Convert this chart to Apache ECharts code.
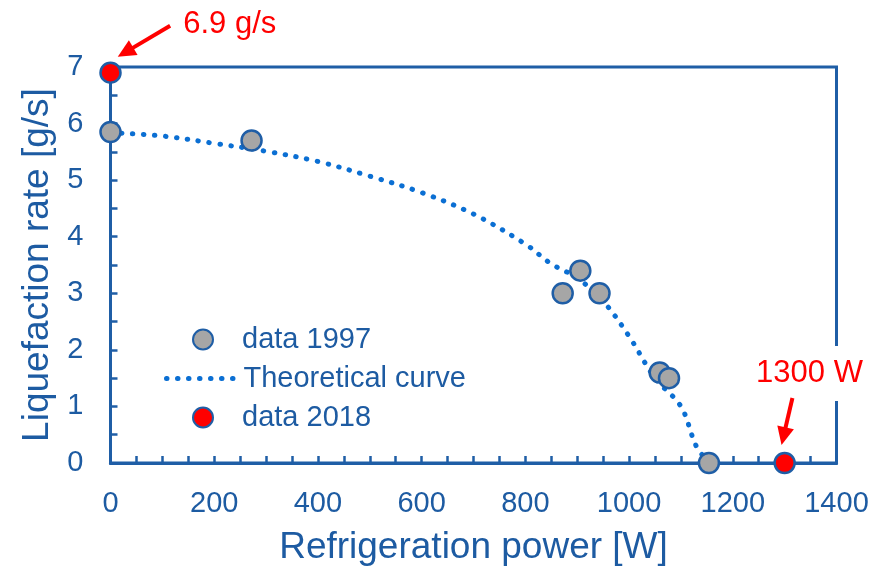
<!DOCTYPE html>
<html>
<head>
<meta charset="utf-8">
<script src="https://cdn.jsdelivr.net/npm/echarts@6/dist/echarts.min.js"></script>
<style>html,body{margin:0;padding:0;background:#fff}#c{width:885px;height:569px}</style>
</head>
<body>
<div id="c"></div>
<script>
// ---- data ----
var xTicks = [0, 200, 400, 600, 800, 1000, 1200, 1400];
var yTicks = [0, 1, 2, 3, 4, 5, 6, 7];
var data1997W = [0, 272, 872, 906, 943, 1059, 1077, 1154];
var data1997Rate = [5.85, 5.7, 3.0, 3.4, 3.0, 1.6, 1.5, 0.0];
var data2018W = [0, 1300];
var data2018Rate = [6.9, 0.0];
var curveW = [0, 100, 200, 300, 400, 500, 600, 700, 800, 850, 900, 950, 1000, 1050, 1100, 1130, 1155];
var curveRate = [5.84, 5.78, 5.65, 5.51, 5.33, 5.07, 4.78, 4.40, 3.87, 3.52, 3.27, 2.86, 2.24, 1.50, 1.00, 0.29, 0.0];
// annotations (data coordinates)
var annoText = ['6.9 g/s', '1300 W'];
var annoTextAt = [[230, 7.76], [1348, 1.58]];
var arrowFrom = [[115, 7.73], [1315, 1.15]];
var arrowTo = [[14, 7.18], [1294, 0.32]];

// ---- styles ----
var AX = '#1f5ea6';
var TXT = '#1d5ba2';
var RED = '#ff0000';
var CURVE = '#0b6fd3';
var FONT = '"Liberation Sans", Arial, sans-serif';

function zip(a, b) { return a.map(function (v, i) { return [v, b[i]]; }); }

var chart = echarts.init(document.getElementById('c'), null, {renderer: 'canvas'});
var option = {
  animation: false,
  backgroundColor: '#fff',
  textStyle: {fontFamily: FONT},
  grid: {left: 110.5, right: 48.5, top: 67, bottom: 106, show: true, containLabel: false,
         outerBoundsMode: 'none',
         borderColor: AX, borderWidth: 3, backgroundColor: 'transparent'},
  xAxis: {
    type: 'value', min: xTicks[0], max: xTicks[xTicks.length - 1], interval: 200,
    name: 'Refrigeration power [W]', nameLocation: 'middle', nameGap: 66,
    nameTextStyle: {color: TXT, fontSize: 37, fontFamily: FONT},
    axisLine: {show: true, lineStyle: {color: AX, width: 3}},
    axisTick: {show: true, inside: true, length: 7, lineStyle: {color: AX, width: 2.5}},
    minorTick: {show: true, splitNumber: 4, length: 7, lineStyle: {color: AX, width: 2.5}},
    axisLabel: {color: TXT, fontSize: 29, margin: 26, fontFamily: FONT, formatter: function (v) { return String(v); }},
    splitLine: {show: false}
  },
  yAxis: {
    type: 'value', min: yTicks[0], max: yTicks[yTicks.length - 1], interval: 1,
    name: 'Liquefaction rate [g/s]', nameLocation: 'middle', nameGap: 54,
    nameTextStyle: {color: TXT, fontSize: 37, fontFamily: FONT},
    axisLine: {show: true, lineStyle: {color: AX, width: 3}},
    axisTick: {show: true, inside: true, length: 7, lineStyle: {color: AX, width: 2.5}},
    minorTick: {show: true, splitNumber: 2, length: 7, lineStyle: {color: AX, width: 2.5}},
    axisLabel: {color: TXT, fontSize: 29, margin: 27, fontFamily: FONT, formatter: function (v) { return String(v); }},
    splitLine: {show: false}
  },
  legend: [
    {data: ['data 1997'], left: 187, top: 320, itemWidth: 20, itemHeight: 20,
     textStyle: {color: TXT, fontSize: 29, fontFamily: FONT, padding: [0, 0, 0, 24]}},
    {data: ['Theoretical curve'], left: 159, top: 359, itemWidth: 72, itemHeight: 14,
     itemStyle: {opacity: 0},
     lineStyle: {color: CURVE, width: 5, type: [0.5, 10.5], cap: 'round'},
     textStyle: {color: TXT, fontSize: 29, fontFamily: FONT}},
    {data: ['data 2018'], left: 187, top: 398, itemWidth: 20, itemHeight: 20,
     textStyle: {color: TXT, fontSize: 29, fontFamily: FONT, padding: [0, 0, 0, 24]}}
  ],
  series: [
    {
      name: 'Theoretical curve', type: 'line', data: zip(curveW, curveRate),
      smooth: 0.35, symbol: 'none', showSymbol: false, z: 2,
      lineStyle: {color: CURVE, width: 5, type: [0.5, 10.5], cap: 'round'},
      itemStyle: {color: CURVE}
    },
    {
      name: 'data 1997', type: 'scatter', data: zip(data1997W, data1997Rate),
      symbol: 'circle', symbolSize: 20, clip: false, z: 3,
      itemStyle: {color: '#a6a6a6', borderColor: AX, borderWidth: 2.5, opacity: 1}
    },
    {
      name: 'data 2018', type: 'scatter', data: zip(data2018W, data2018Rate),
      symbol: 'circle', symbolSize: 20, clip: false, z: 4,
      itemStyle: {color: RED, borderColor: AX, borderWidth: 2.5, opacity: 1}
    }
  ]
};
chart.setOption(option);

// annotations placed via the chart's own coordinate conversion
function px(p) { return chart.convertToPixel({gridIndex: 0}, p); }
var graphics = [];
annoText.forEach(function (t, i) {
  var c = px(annoTextAt[i]);
  graphics.push({
    type: 'text', x: c[0], y: c[1], z: 100,
    style: {text: t, fill: RED, font: '31px ' + FONT, align: 'center', verticalAlign: 'middle',
      backgroundColor: i === 1 ? '#fff' : null, padding: i === 1 ? [12, 6, 12, 6] : 0}
  });
  var a = px(arrowFrom[i]), b = px(arrowTo[i]);
  var dx = b[0] - a[0], dy = b[1] - a[1], L = Math.sqrt(dx * dx + dy * dy);
  var ux = dx / L, uy = dy / L, nx = -uy, ny = ux;
  var hl = 18, hw = 8.5;
  var bx = b[0] - ux * hl, by = b[1] - uy * hl;
  graphics.push({
    type: 'line', z: 100,
    shape: {x1: a[0], y1: a[1], x2: bx + ux * 2, y2: by + uy * 2},
    style: {stroke: RED, lineWidth: 4}
  });
  graphics.push({
    type: 'polygon', z: 100,
    shape: {points: [[b[0], b[1]], [bx + nx * hw, by + ny * hw], [bx - nx * hw, by - ny * hw]]},
    style: {fill: RED}
  });
});
chart.setOption({graphic: graphics});
</script>
</body>
</html>
